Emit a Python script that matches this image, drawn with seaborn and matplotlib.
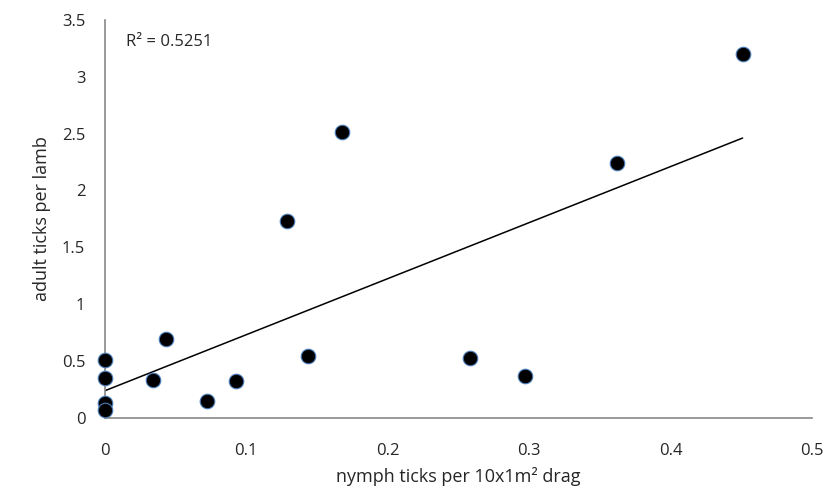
import numpy as np
import pandas as pd
import matplotlib
matplotlib.use("Agg")
import matplotlib.pyplot as plt
import seaborn as sns

# values
nymph = [0.0, 0.0, 0.0, 0.0, 0.034, 0.043, 0.072, 0.093, 0.129, 0.144,
         0.168, 0.258, 0.297, 0.362, 0.451]
adult = [0.51, 0.35, 0.13, 0.07, 0.33, 0.69, 0.15, 0.32, 1.73, 0.545,
         2.51, 0.53, 0.37, 2.24, 3.2]

df = pd.DataFrame({"nymph": nymph, "adult": adult})

sns.set_style("white")
plt.rcParams['font.family'] = ['Open Sans', 'DejaVu Sans']

fig = plt.figure(figsize=(8.31, 4.98), dpi=100)
ax = fig.add_axes([0.126, 0.161, 0.851, 0.799])

sns.regplot(data=df, x="nymph", y="adult", ax=ax, ci=None,
            scatter_kws=dict(s=110, color="black", edgecolor="#4a7ebb", linewidths=0.8,
                             alpha=1, clip_on=False, zorder=3),
            line_kws=dict(color="black", linewidth=1.1))

ax.set_xlim(0, 0.5)
ax.set_ylim(0, 3.5)
ax.set_xticks(np.arange(0, 0.51, 0.1))
ax.set_xticklabels(["0", "0.1", "0.2", "0.3", "0.4", "0.5"])
ax.set_yticks(np.arange(0, 3.51, 0.5))
ax.set_yticklabels(["0", "0.5", "1", "1.5", "2", "2.5", "3", "3.5"])

for side in ["top", "right"]:
    ax.spines[side].set_visible(False)
for side in ["left", "bottom"]:
    ax.spines[side].set_color("#888888")
    ax.spines[side].set_linewidth(1.2)
ax.tick_params(axis="both", direction="out", length=6, width=1.2, color="#888888",
               labelsize=12, pad=8)
ax.tick_params(axis="x", pad=12)

ax.set_xlabel("nymph ticks per 10x1m² drag", fontsize=13, labelpad=6)
ax.set_ylabel("adult ticks per lamb", fontsize=13, labelpad=8)
ax.text(0.015, 3.27, "R² = 0.5251", fontsize=12)

fig.savefig("out.png", dpi=100)
